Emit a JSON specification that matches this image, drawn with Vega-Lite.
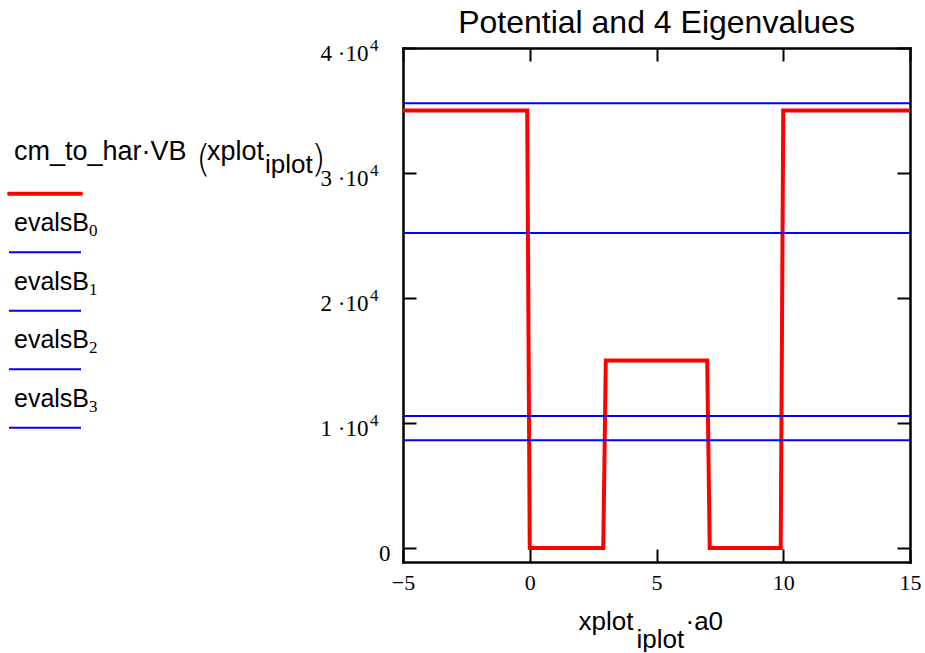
{
  "$schema": "https://vega.github.io/schema/vega-lite/v6.json",
  "padding": {"left": 0, "top": 7, "right": 0, "bottom": 0},
  "background": "white",
  "config": {"view": {"stroke": null}, "font": "Liberation Sans"},
  "datasets": {
    "potential": [
      {"x": -5, "v": 35000}, {"x": -0.1, "v": 35000}, {"x": 0, "v": 0}, {"x": 2.9, "v": 0},
      {"x": 3, "v": 15000}, {"x": 7, "v": 15000}, {"x": 7.1, "v": 0}, {"x": 9.9, "v": 0},
      {"x": 10, "v": 35000}, {"x": 15, "v": 35000}
    ],
    "evals": [
      {"series": "evalsB0", "E": 8620},
      {"series": "evalsB1", "E": 10560},
      {"series": "evalsB2", "E": 25200},
      {"series": "evalsB3", "E": 35580}
    ],
    "legend": [
      {"series": "cm_to_har·VB(xplot_iplot)", "kind": "potential", "order": 0, "main": "cm_to_har·VB", "arg": "xplot", "sub": "iplot"},
      {"series": "evalsB0", "kind": "eigenvalue", "order": 1, "main": "evalsB", "sub": "0"},
      {"series": "evalsB1", "kind": "eigenvalue", "order": 2, "main": "evalsB", "sub": "1"},
      {"series": "evalsB2", "kind": "eigenvalue", "order": 3, "main": "evalsB", "sub": "2"},
      {"series": "evalsB3", "kind": "eigenvalue", "order": 4, "main": "evalsB", "sub": "3"}
    ]
  },
  "bounds": "flush",
  "spacing": 73,
  "resolve": {"scale": {"x": "independent", "y": "independent"}},
  "hconcat": [
    {
      "width": 330,
      "height": 514,
      "data": {"name": "legend"},
      "layer": [
        {
          "transform": [{"filter": "datum.kind == 'potential'"}],
          "mark": {"type": "rule", "color": "#ff0000", "strokeWidth": 4, "strokeCap": "round"},
          "encoding": {
            "x": {"datum": 9, "type": "quantitative", "scale": {"domain": [0, 330], "nice": false, "zero": false}, "axis": null},
            "x2": {"datum": 81},
            "y": {"field": "order", "type": "quantitative", "scale": {"domain": [-2.4906, 6.2957], "reverse": true, "nice": false, "zero": false}, "axis": null}
          }
        },
        {
          "transform": [{"filter": "datum.kind == 'eigenvalue'"}],
          "mark": {"type": "rule", "color": "#0000ff", "strokeWidth": 2},
          "encoding": {
            "x": {"datum": 9, "type": "quantitative"},
            "x2": {"datum": 81},
            "y": {"field": "order", "type": "quantitative"}
          }
        },
        {
          "transform": [{"filter": "datum.order > 0"}],
          "mark": {"type": "text", "align": "left", "baseline": "alphabetic", "dy": -21, "font": "Liberation Sans", "fontSize": 25, "color": "black"},
          "encoding": {
            "x": {"datum": 14, "type": "quantitative"},
            "y": {"field": "order", "type": "quantitative"},
            "text": {"field": "main"}
          }
        },
        {
          "transform": [{"filter": "datum.order > 0"}],
          "mark": {"type": "text", "align": "left", "baseline": "alphabetic", "dx": 75, "dy": -16, "font": "Liberation Serif", "fontSize": 17, "color": "black"},
          "encoding": {
            "x": {"datum": 14, "type": "quantitative"},
            "y": {"field": "order", "type": "quantitative"},
            "text": {"field": "sub"}
          }
        },
        {
          "transform": [{"filter": "datum.order == 0"}],
          "mark": {"type": "text", "align": "left", "baseline": "alphabetic", "dy": -34, "font": "Liberation Sans", "fontSize": 27, "color": "black"},
          "encoding": {
            "x": {"datum": 14, "type": "quantitative"},
            "y": {"field": "order", "type": "quantitative"},
            "text": {"field": "main"}
          }
        },
        {
          "transform": [{"filter": "datum.order == 0"}],
          "mark": {"type": "text", "align": "left", "baseline": "alphabetic", "dy": -23, "font": "DejaVu Sans", "fontWeight": 200, "fontSize": 38, "color": "black", "text": "("},
          "encoding": {
            "x": {"datum": 196, "type": "quantitative"},
            "y": {"field": "order", "type": "quantitative"}
          }
        },
        {
          "transform": [{"filter": "datum.order == 0"}],
          "mark": {"type": "text", "align": "left", "baseline": "alphabetic", "dy": -34, "font": "Liberation Sans", "fontSize": 27, "color": "black"},
          "encoding": {
            "x": {"datum": 207, "type": "quantitative"},
            "y": {"field": "order", "type": "quantitative"},
            "text": {"field": "arg"}
          }
        },
        {
          "transform": [{"filter": "datum.order == 0"}],
          "mark": {"type": "text", "align": "left", "baseline": "alphabetic", "dy": -21, "font": "Liberation Sans", "fontSize": 26, "color": "black"},
          "encoding": {
            "x": {"datum": 265, "type": "quantitative"},
            "y": {"field": "order", "type": "quantitative"},
            "text": {"field": "sub"}
          }
        },
        {
          "transform": [{"filter": "datum.order == 0"}],
          "mark": {"type": "text", "align": "left", "baseline": "alphabetic", "dy": -23, "font": "DejaVu Sans", "fontWeight": 200, "fontSize": 38, "color": "black", "text": ")"},
          "encoding": {
            "x": {"datum": 311, "type": "quantitative"},
            "y": {"field": "order", "type": "quantitative"}
          }
        }
      ]
    },
    {
      "width": 507,
      "height": 514,
      "title": {"text": "Potential and 4 Eigenvalues", "font": "Liberation Sans", "fontSize": 32, "fontWeight": "normal", "color": "black", "anchor": "middle", "baseline": "alphabetic", "offset": -29},
      "resolve": {"axis": {"x": "independent", "y": "independent"}},
      "layer": [
        {
          "data": {"name": "potential"},
          "mark": {"type": "line", "color": "#ff0000", "strokeWidth": 4, "strokeJoin": "miter", "clip": true},
          "encoding": {
            "x": {
              "field": "x", "type": "quantitative",
              "scale": {"domain": [-5, 15], "nice": false, "zero": false},
              "axis": {
                "orient": "bottom", "values": [-5, 0, 5, 10, 15], "grid": false,
                "tickSize": -13, "tickWidth": 2, "tickColor": "black",
                "domainColor": "black", "domainWidth": 2.5, "domainCap": "square",
                "labelFont": "Liberation Serif", "labelFontSize": 22, "labelColor": "black", "labelPadding": 23,
                "labelFlush": false, "labelOverlap": false,
                "title": "xplot", "titleFont": "Liberation Sans", "titleFontSize": 26, "titleFontWeight": "normal", "titleColor": "black",
                "titleX": 175, "titleY": 67, "titleAlign": "left", "titleBaseline": "alphabetic"
              }
            },
            "y": {
              "field": "v", "type": "quantitative",
              "scale": {"domain": [-1120, 40000], "nice": false, "zero": false},
              "axis": {
                "orient": "left", "values": [0, 10000, 20000, 30000, 40000], "grid": false,
                "labelExpr": "datum.value == 0 ? '0' : (datum.value / 10000) + ' ·10'",
                "tickSize": -13, "tickWidth": 2, "tickColor": "black",
                "domainColor": "black", "domainWidth": 2.5, "domainCap": "square",
                "labelFont": "Liberation Serif", "labelFontSize": 23, "labelColor": "black",
                "labelPadding": {"condition": {"test": "datum.value == 0", "value": 26}, "value": 48},
                "labelBaseline": "alphabetic", "labelOffset": 12, "labelOverlap": false, "labelFlush": false,
                "title": null
              }
            }
          }
        },
        {
          "data": {"name": "evals"},
          "mark": {"type": "rule", "color": "#0000ff", "strokeWidth": 2},
          "encoding": {
            "x": {
              "datum": -5, "type": "quantitative",
              "axis": {
                "orient": "top", "values": [-5, 0, 5, 10, 15], "grid": false, "labels": false,
                "tickSize": -13, "tickWidth": 2, "tickColor": "black",
                "domainColor": "black", "domainWidth": 2.5, "domainCap": "square", "title": null
              }
            },
            "x2": {"datum": 15},
            "y": {
              "field": "E", "type": "quantitative",
              "axis": {
                "orient": "right", "values": [0, 10000, 20000, 30000, 40000], "grid": false, "labels": false,
                "tickSize": -13, "tickWidth": 2, "tickColor": "black",
                "domainColor": "black", "domainWidth": 2.5, "domainCap": "square", "title": null
              }
            }
          }
        },
        {
          "data": {"name": "potential"},
          "mark": {"type": "line", "opacity": 0},
          "encoding": {
            "x": {
              "field": "x", "type": "quantitative",
              "axis": {
                "orient": "bottom", "domain": false, "ticks": false, "tickSize": 0, "labels": false, "grid": false,
                "title": "iplot", "titleFont": "Liberation Sans", "titleFontSize": 26, "titleFontWeight": "normal", "titleColor": "black",
                "titleX": 233, "titleY": 85, "titleAlign": "left", "titleBaseline": "alphabetic"
              }
            },
            "y": {
              "field": "v", "type": "quantitative",
              "axis": {
                "orient": "left", "values": [0, 10000, 20000, 30000, 40000], "domain": false, "ticks": false, "tickSize": 0, "grid": false,
                "labelExpr": "datum.value == 0 ? '' : '4'",
                "labelFont": "Liberation Serif", "labelFontSize": 17, "labelColor": "black", "labelPadding": 25,
                "labelBaseline": "alphabetic", "labelOffset": 2, "labelOverlap": false, "labelFlush": false,
                "title": null
              }
            }
          }
        },
        {
          "data": {"name": "potential"},
          "mark": {"type": "line", "opacity": 0},
          "encoding": {
            "x": {
              "field": "x", "type": "quantitative",
              "axis": {
                "orient": "bottom", "domain": false, "ticks": false, "tickSize": 0, "labels": false, "grid": false,
                "title": "·a0", "titleFont": "Liberation Sans", "titleFontSize": 26, "titleFontWeight": "normal", "titleColor": "black",
                "titleX": 282, "titleY": 67, "titleAlign": "left", "titleBaseline": "alphabetic"
              }
            },
            "y": {"field": "v", "type": "quantitative", "axis": null}
          }
        }
      ]
    }
  ]
}
